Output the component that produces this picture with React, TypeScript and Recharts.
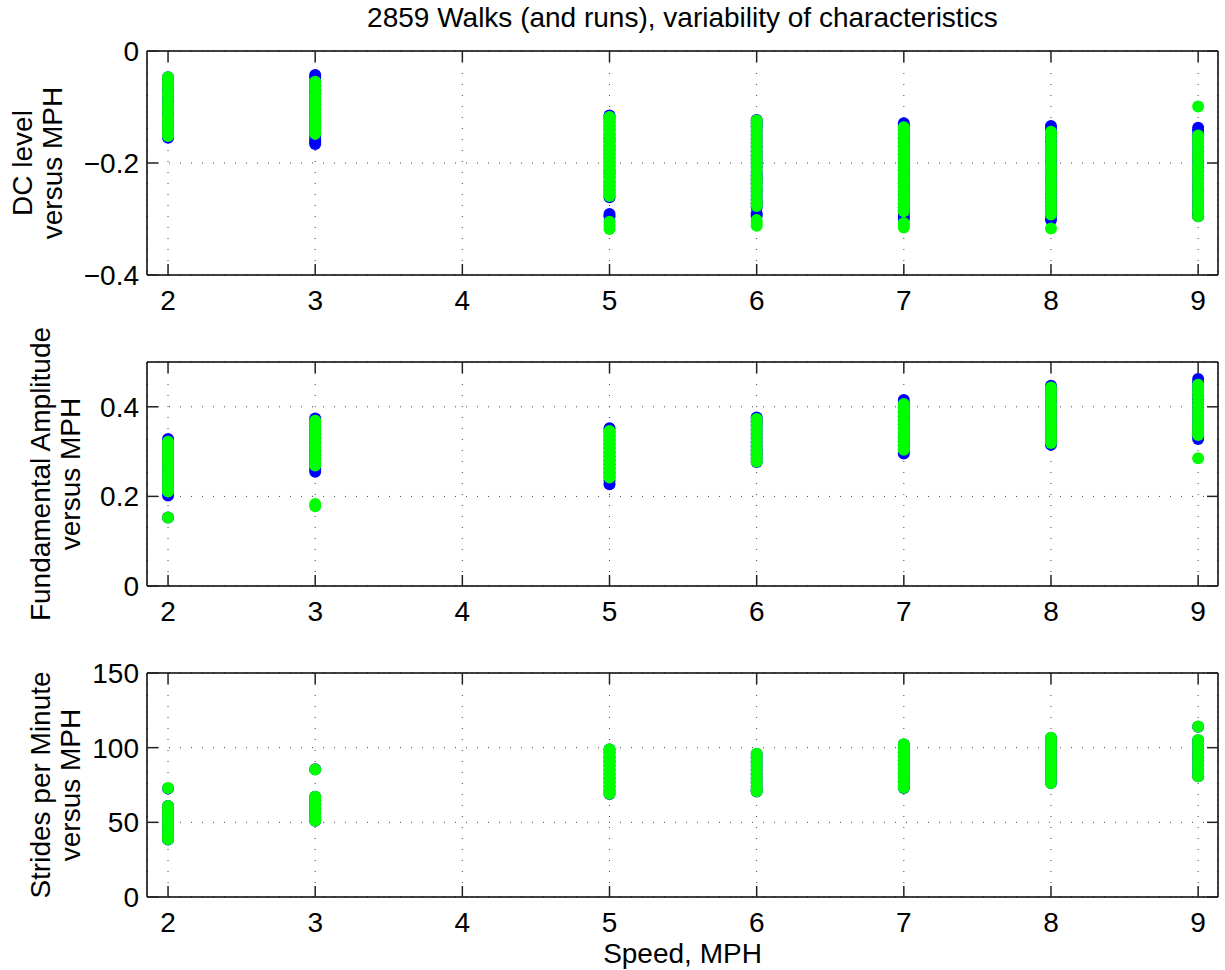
import React from 'react';
import { ScatterChart, Scatter, XAxis, YAxis, CartesianGrid, ReferenceLine } from 'recharts';

// ---------- data ----------
const speeds = [2, 3, 5, 6, 7, 8, 9];
const xTicks = [2, 3, 4, 5, 6, 7, 8, 9];

const dcTicks = [-0.4, -0.2, 0];
const ampTicks = [0, 0.2, 0.4];
const strideTicks = [0, 50, 100, 150];

const titleText = '2859 Walks (and runs), variability of characteristics';
const xLabelText = 'Speed, MPH';
const dcLabel = ['DC level', 'versus MPH'];
const ampLabel = ['Fundamental Amplitude', 'versus MPH'];
const strideLabel = ['Strides per Minute', 'versus MPH'];

// DC level, one list per speed (2,3,5,6,7,8,9)
const dcBlue: number[][] = [
  [-0.047, -0.052, -0.059, -0.067, -0.073, -0.081, -0.088, -0.094, -0.102, -0.109, -0.115, -0.123, -0.130, -0.137, -0.143, -0.150, -0.155],
  [-0.043, -0.047, -0.055, -0.062, -0.070, -0.076, -0.084, -0.091, -0.097, -0.105, -0.112, -0.118, -0.126, -0.133, -0.139, -0.146, -0.153, -0.159, -0.163, -0.166],
  [-0.115, -0.120, -0.127, -0.134, -0.141, -0.149, -0.156, -0.162, -0.170, -0.177, -0.184, -0.191, -0.198, -0.205, -0.213, -0.219, -0.226, -0.234, -0.241, -0.248, -0.255, -0.261, -0.291, -0.295],
  [-0.123, -0.128, -0.135, -0.143, -0.150, -0.157, -0.164, -0.171, -0.179, -0.186, -0.193, -0.200, -0.207, -0.215, -0.222, -0.229, -0.236, -0.244, -0.251, -0.258, -0.265, -0.272, -0.279, -0.290, -0.294],
  [-0.129, -0.134, -0.141, -0.149, -0.156, -0.163, -0.170, -0.178, -0.185, -0.192, -0.199, -0.207, -0.214, -0.221, -0.228, -0.236, -0.243, -0.250, -0.257, -0.265, -0.272, -0.279, -0.285, -0.290, -0.296, -0.300],
  [-0.134, -0.139, -0.146, -0.154, -0.161, -0.168, -0.176, -0.183, -0.190, -0.197, -0.205, -0.212, -0.219, -0.227, -0.234, -0.241, -0.248, -0.256, -0.263, -0.270, -0.277, -0.284, -0.290, -0.296, -0.302],
  [-0.137, -0.142, -0.149, -0.157, -0.164, -0.171, -0.179, -0.186, -0.193, -0.200, -0.208, -0.215, -0.222, -0.229, -0.237, -0.244, -0.251, -0.258, -0.266, -0.273, -0.280, -0.287, -0.291, -0.295],
];
const dcGreen: number[][] = [
  [-0.047, -0.053, -0.060, -0.066, -0.074, -0.080, -0.087, -0.095, -0.101, -0.108, -0.116, -0.122, -0.129, -0.136, -0.142, -0.148, -0.152],
  [-0.055, -0.060, -0.067, -0.074, -0.081, -0.088, -0.095, -0.102, -0.109, -0.116, -0.122, -0.129, -0.136, -0.143, -0.148],
  [-0.118, -0.124, -0.131, -0.138, -0.145, -0.152, -0.160, -0.167, -0.174, -0.181, -0.188, -0.195, -0.202, -0.209, -0.217, -0.224, -0.231, -0.238, -0.245, -0.252, -0.259, -0.305, -0.311, -0.318],
  [-0.124, -0.130, -0.137, -0.144, -0.152, -0.159, -0.166, -0.173, -0.180, -0.188, -0.195, -0.202, -0.209, -0.216, -0.224, -0.231, -0.238, -0.245, -0.252, -0.259, -0.266, -0.272, -0.277, -0.302, -0.307, -0.312],
  [-0.136, -0.142, -0.149, -0.156, -0.164, -0.171, -0.178, -0.185, -0.192, -0.200, -0.207, -0.214, -0.221, -0.229, -0.236, -0.243, -0.250, -0.258, -0.265, -0.272, -0.279, -0.286, -0.307, -0.311, -0.315],
  [-0.144, -0.150, -0.157, -0.165, -0.172, -0.179, -0.186, -0.193, -0.201, -0.208, -0.215, -0.222, -0.230, -0.237, -0.244, -0.251, -0.259, -0.266, -0.273, -0.280, -0.287, -0.292, -0.317],
  [-0.099, -0.151, -0.157, -0.164, -0.171, -0.179, -0.186, -0.193, -0.201, -0.208, -0.215, -0.222, -0.230, -0.237, -0.244, -0.252, -0.259, -0.266, -0.273, -0.281, -0.288, -0.295],
];

// Fundamental amplitude
const ampBlue: number[][] = [
  [0.328, 0.320, 0.311, 0.302, 0.293, 0.284, 0.275, 0.266, 0.257, 0.248, 0.239, 0.229, 0.220, 0.210, 0.202, 0.153],
  [0.374, 0.366, 0.357, 0.347, 0.338, 0.329, 0.320, 0.310, 0.301, 0.292, 0.282, 0.273, 0.263, 0.255],
  [0.352, 0.344, 0.335, 0.326, 0.317, 0.308, 0.298, 0.289, 0.280, 0.271, 0.262, 0.253, 0.244, 0.235, 0.227],
  [0.376, 0.368, 0.359, 0.349, 0.340, 0.331, 0.321, 0.312, 0.303, 0.294, 0.285, 0.277],
  [0.415, 0.407, 0.398, 0.388, 0.379, 0.370, 0.360, 0.351, 0.342, 0.332, 0.323, 0.314, 0.304, 0.296],
  [0.447, 0.439, 0.430, 0.421, 0.411, 0.402, 0.393, 0.384, 0.374, 0.365, 0.356, 0.346, 0.337, 0.328, 0.319, 0.315],
  [0.462, 0.454, 0.445, 0.436, 0.426, 0.417, 0.408, 0.398, 0.389, 0.380, 0.371, 0.362, 0.353, 0.344, 0.335, 0.328],
];
const ampGreen: number[][] = [
  [0.322, 0.314, 0.305, 0.296, 0.287, 0.278, 0.268, 0.259, 0.250, 0.241, 0.232, 0.223, 0.215, 0.211, 0.153],
  [0.369, 0.361, 0.352, 0.342, 0.333, 0.324, 0.314, 0.305, 0.296, 0.287, 0.277, 0.269, 0.183, 0.178],
  [0.346, 0.338, 0.329, 0.320, 0.310, 0.301, 0.292, 0.283, 0.274, 0.265, 0.256, 0.248, 0.242],
  [0.373, 0.365, 0.356, 0.347, 0.337, 0.328, 0.319, 0.310, 0.301, 0.292, 0.284, 0.278],
  [0.406, 0.398, 0.389, 0.380, 0.370, 0.361, 0.352, 0.343, 0.333, 0.324, 0.315, 0.308, 0.304],
  [0.443, 0.435, 0.426, 0.417, 0.407, 0.398, 0.389, 0.380, 0.370, 0.361, 0.352, 0.343, 0.334, 0.326, 0.319],
  [0.449, 0.441, 0.432, 0.423, 0.413, 0.404, 0.395, 0.386, 0.377, 0.368, 0.359, 0.350, 0.342, 0.337, 0.285],
];

// Strides per minute
const strideBlue: number[][] = [
  [72.6, 61.0, 58.4, 55.6, 52.9, 50.1, 47.3, 44.5, 41.7, 39.6, 38.5],
  [85.5, 67.2, 64.6, 61.8, 59.0, 56.2, 53.5, 51.8, 51.0],
  [98.8, 96.4, 93.6, 90.8, 88.0, 85.2, 82.4, 79.6, 76.8, 74.0, 71.2, 69.0],
  [95.8, 93.4, 90.6, 87.8, 85.0, 82.2, 79.4, 76.6, 73.8, 71.7, 70.6],
  [102.1, 99.7, 96.9, 94.1, 91.3, 88.5, 85.7, 82.9, 80.1, 77.3, 74.5, 73.0],
  [106.5, 104.1, 101.3, 98.5, 95.7, 92.9, 90.1, 87.3, 84.5, 81.7, 78.9, 76.3],
  [114.0, 105.0, 102.6, 99.8, 97.0, 94.2, 91.4, 88.6, 85.8, 83.0, 80.8],
];
const strideGreen: number[][] = [
  [73.0, 61.0, 58.6, 55.8, 53.1, 50.3, 47.5, 44.7, 41.9, 39.6, 38.6],
  [85.4, 67.2, 64.8, 62.0, 59.2, 56.4, 53.7, 51.8, 51.1],
  [99.0, 96.6, 93.8, 91.0, 88.2, 85.4, 82.6, 79.8, 77.0, 74.2, 71.4, 69.1],
  [96.0, 93.6, 90.8, 88.0, 85.2, 82.4, 79.6, 76.8, 74.0, 71.9, 70.8],
  [102.3, 99.9, 97.1, 94.3, 91.5, 88.7, 85.9, 83.1, 80.3, 77.5, 74.7, 73.1],
  [106.7, 104.3, 101.5, 98.7, 95.9, 93.1, 90.3, 87.5, 84.7, 81.9, 79.1, 76.4],
  [114.1, 105.2, 102.8, 100.0, 97.2, 94.4, 91.6, 88.8, 86.0, 83.2, 80.9],
];

// ---------- layout / style ----------
const FONT = '"Liberation Sans", Arial, Helvetica, sans-serif';
const FS = 28;
const W = 1225;
const PLOT_LEFT = 147;
const PLOT_RIGHT = 1218;
const PLOT_W = PLOT_RIGHT - PLOT_LEFT;
const PLOT_H = 224;
const TICK_LEN = 11;
const X_MIN = 1.857;
const X_MAX = 9.135;
const BLUE = '#0000ff';
const GREEN = '#00ff00';
const DOT_R = 6;

const toPoints = (cols: number[][]) =>
  cols.flatMap((vals, i) => vals.map((v) => ({ x: speeds[i], y: v })));

const fmt = (v: number) => String(v).replace('-', '\u2212');

const XTick = (props: any) => {
  const { x, y, payload } = props;
  return (
    <g>
      <line x1={x} y1={y} x2={x} y2={y - TICK_LEN} stroke="#222" strokeWidth={1.5} />
      <line x1={x} y1={y - PLOT_H} x2={x} y2={y - PLOT_H + TICK_LEN} stroke="#222" strokeWidth={1.5} />
      <text x={x} y={y + 35} textAnchor="middle" fontSize={FS} fontFamily={FONT} fill="#000">
        {payload.value}
      </text>
    </g>
  );
};

const YTick = (props: any) => {
  const { x, y, payload } = props;
  return (
    <g>
      <line x1={x} y1={y} x2={x + TICK_LEN} y2={y} stroke="#222" strokeWidth={1.5} />
      <line x1={x + PLOT_W} y1={y} x2={x + PLOT_W - TICK_LEN} y2={y} stroke="#222" strokeWidth={1.5} />
      <text x={x - 8} y={y + 10} textAnchor="end" fontSize={FS} fontFamily={FONT} fill="#000">
        {fmt(payload.value)}
      </text>
    </g>
  );
};

const makeDot = (color: string) => (props: any) => {
  const { cx, cy } = props;
  if (cx == null || cy == null) return <g />;
  return <circle cx={cx} cy={cy} r={DOT_R} fill={color} />;
};

type PanelProps = {
  plotTop: number;
  domain: [number, number];
  ticks: number[];
  blue: number[][];
  green: number[][];
};

const MT = 30;

const Panel = ({ plotTop, domain, ticks, blue, green }: PanelProps) => (
  <div style={{ position: 'absolute', left: 0, top: plotTop - MT }}>
    <ScatterChart
      width={W}
      height={MT + PLOT_H + 60}
      margin={{ top: MT, right: W - PLOT_RIGHT, bottom: 0, left: 0 }}
    >
      <CartesianGrid strokeDasharray="1 10" stroke="#444" strokeWidth={1} />
      <XAxis
        type="number"
        dataKey="x"
        domain={[X_MIN, X_MAX]}
        ticks={xTicks}
        interval={0}
        allowDataOverflow
        tickSize={0}
        tickMargin={0}
        tickLine={false}
        tick={(p: any) => <XTick {...p} />}
        axisLine={{ stroke: '#000', strokeWidth: 1.5 }}
        height={60}
      />
      <YAxis
        type="number"
        dataKey="y"
        domain={domain}
        ticks={ticks}
        interval={0}
        allowDataOverflow
        tickSize={0}
        tickMargin={0}
        tickLine={false}
        tick={(p: any) => <YTick {...p} />}
        axisLine={{ stroke: '#000', strokeWidth: 1.5 }}
        width={PLOT_LEFT}
      />
      <ReferenceLine y={domain[1]} stroke="#000" strokeWidth={1.5} />
      <ReferenceLine x={X_MAX} stroke="#000" strokeWidth={1.5} />
      <Scatter data={toPoints(blue)} fill={BLUE} shape={makeDot(BLUE)} isAnimationActive={false} />
      <Scatter data={toPoints(green)} fill={GREEN} shape={makeDot(GREEN)} isAnimationActive={false} />
    </ScatterChart>
  </div>
);

const YLabel = ({ lines, cx, cy }: { lines: string[]; cx: number[]; cy: number }) => (
  <g>
    {lines.map((t, i) => (
      <text
        key={i}
        x={cx[i]}
        y={cy}
        transform={`rotate(-90, ${cx[i]}, ${cy})`}
        textAnchor="middle"
        dominantBaseline="central"
        fontSize={FS}
        fontFamily={FONT}
        fill="#000"
      >
        {t}
      </text>
    ))}
  </g>
);

export default function App() {
  const midX = (PLOT_LEFT + PLOT_RIGHT) / 2;
  return (
    <div style={{ position: 'absolute', left: 0, top: 0, width: W, height: 970, background: '#fff' }}>
      <Panel plotTop={51} domain={[-0.4, 0]} ticks={dcTicks} blue={dcBlue} green={dcGreen} />
      <Panel plotTop={362} domain={[0, 0.5]} ticks={ampTicks} blue={ampBlue} green={ampGreen} />
      <Panel plotTop={673} domain={[0, 150]} ticks={strideTicks} blue={strideBlue} green={strideGreen} />
      <svg
        width={W}
        height={970}
        style={{ position: 'absolute', left: 0, top: 0, pointerEvents: 'none' }}
      >
        <text x={midX} y={17} textAnchor="middle" dominantBaseline="central" fontSize={FS} fontFamily={FONT} fill="#000">
          {titleText}
        </text>
        <text x={midX} y={953} textAnchor="middle" dominantBaseline="central" fontSize={FS} fontFamily={FONT} fill="#000">
          {xLabelText}
        </text>
        <YLabel lines={dcLabel} cx={[22, 52]} cy={163} />
        <YLabel lines={ampLabel} cx={[40, 70]} cy={474} />
        <YLabel lines={strideLabel} cx={[40, 70]} cy={785} />
      </svg>
    </div>
  );
}
